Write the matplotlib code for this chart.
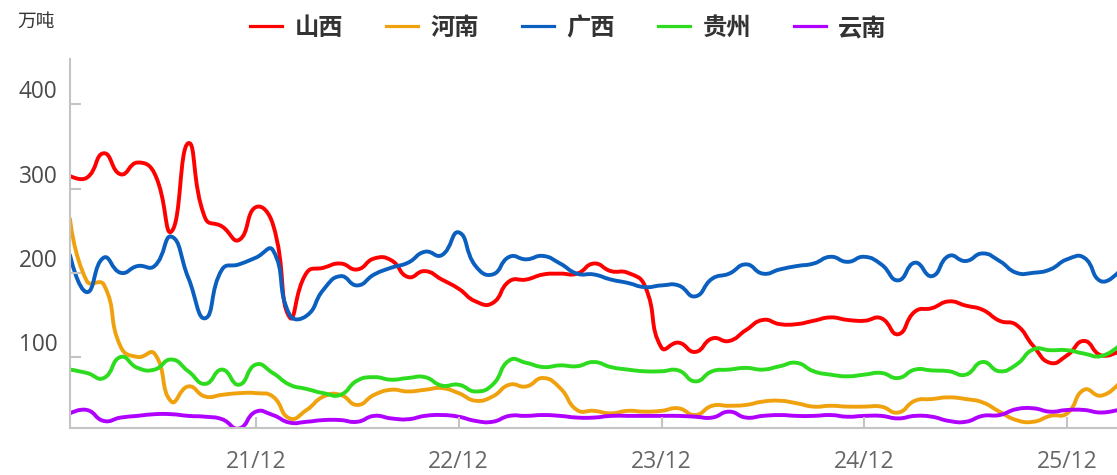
import numpy as np
import matplotlib
matplotlib.use("Agg")
import matplotlib.pyplot as plt
from matplotlib.path import Path
from matplotlib.patches import PathPatch
from matplotlib.lines import Line2D

plt.rcParams['font.family'] = ['Noto Sans CJK SC', 'DejaVu Sans']

# ---------------- data (monthly, 2021-01 .. 2026-03) ----------------
months = [f"{y % 100:02d}/{m:02d}" for y in range(2021, 2027) for m in range(1, 13)][:63]
series_names = ["山西", "河南", "广西", "贵州", "云南"]
shanxi = [315, 313, 342, 317, 331, 318, 249, 354, 265, 255, 239, 278, 258, 147, 200,
          206, 211, 204, 217, 215, 195, 202, 192, 181, 166, 164, 190, 192, 198, 199,
          199, 211, 202, 200, 185, 111, 117, 106, 122, 119, 132, 144, 139, 139, 143,
          147, 144, 143, 146, 127, 154, 158, 166, 161, 156, 143, 138, 113, 93, 102,
          119, 102, 106]
henan = [264, 190, 186, 112, 100, 104, 47, 65, 53, 55, 57, 57, 53, 27, 37,
         53, 55, 43, 55, 61, 59, 61, 63, 57, 48, 53, 67, 65, 75, 63,
         37, 36, 33, 36, 35, 36, 39, 31, 42, 42, 43, 47, 48, 45, 41,
         42, 41, 41, 41, 34, 48, 50, 52, 50, 46, 35, 25, 23, 30, 33,
         61, 54, 67]
guangxi = [221, 177, 218, 200, 208, 208, 243, 194, 146, 204, 210, 218, 227, 150, 149,
           180, 196, 185, 198, 206, 212, 225, 221, 248, 208, 198, 219, 216, 220, 211,
           199, 198, 192, 188, 183, 185, 185, 172, 193, 199, 210, 199, 204, 208, 211,
           219, 213, 219, 210, 191, 212, 196, 220, 214, 223, 214, 200, 200, 204, 216,
           218, 190, 200]
guizhou = [85, 81, 75, 100, 87, 85, 97, 83, 68, 85, 67, 91, 81, 67, 62,
           57, 55, 72, 76, 73, 75, 76, 66, 67, 59, 67, 96, 93, 88, 90,
           89, 94, 88, 85, 83, 83, 84, 71, 83, 85, 87, 85, 89, 93, 83,
           79, 77, 79, 81, 75, 85, 84, 83, 79, 94, 83, 91, 109, 108, 108,
           104, 101, 112]
yunnan = [33, 37, 24, 28, 30, 32, 32, 30, 29, 26, 15, 35, 31, 22, 23,
          25, 25, 23, 30, 27, 26, 30, 31, 29, 24, 23, 30, 30, 31, 30,
          28, 28, 30, 30, 30, 30, 30, 29, 28, 35, 28, 30, 31, 30, 30,
          31, 29, 30, 30, 27, 30, 29, 24, 23, 30, 31, 38, 39, 35, 37,
          37, 34, 37]
colors = ["#ff0000", "#f0a20e", "#0b5fbf", "#2ddc1e", "#b000ff"]
xtick_labels = ["21/12", "22/12", "23/12", "24/12", "25/12"]
ytick_values = [100, 200, 300, 400]

# ---------------- figure ----------------
W, H = 1117, 475
fig = plt.figure(figsize=(W / 100, H / 100), dpi=100)
ax = fig.add_axes([70 / W, 1 - 428 / H, (W - 70) / W, (428 - 59) / H])
ax.set_xlim(0, 61.95)
ax.set_ylim(15.6, 454)

x = np.arange(len(months), dtype=float)
all_series = [shanxi, henan, guangxi, guizhou, yunnan]


def smooth_path(xs, ys, smooth=0.5):
    pts = ax.transData.transform(np.column_stack([xs, ys]))
    n = len(pts)
    verts = [pts[0]]
    codes = [Path.MOVETO]
    cp_next = []
    cp_prev = []
    for i in range(n):
        p = pts[i]
        if i == 0 or i == n - 1:
            cp_prev.append(p)
            cp_next.append(p)
            continue
        prv, nxt = pts[i - 1], pts[i + 1]
        v = nxt - prv
        d0 = np.hypot(*(p - prv))
        d1 = np.hypot(*(nxt - p))
        r = d1 / (d0 + d1) if d0 + d1 > 0 else 0.5
        cp_prev.append(p - v * smooth * (1 - r))
        cp_next.append(p + v * smooth * r)
    for i in range(n - 1):
        verts += [cp_next[i], cp_prev[i + 1], pts[i + 1]]
        codes += [Path.CURVE4] * 3
    verts = ax.transData.inverted().transform(np.array(verts))
    return Path(verts, codes)


for vals, col in zip(all_series, colors):
    path = smooth_path(x, np.array(vals, dtype=float))
    patch = PathPatch(path, facecolor="none", edgecolor=col, lw=2.8,
                      capstyle="round", joinstyle="round", transform=ax.transData)
    patch.set_clip_path(ax.patch)
    ax.add_patch(patch)

# ---------------- axes styling ----------------
for s in ["top", "right"]:
    ax.spines[s].set_visible(False)
for s in ["left", "bottom"]:
    ax.spines[s].set_color("#c4c4c4")
    ax.spines[s].set_linewidth(1.5)

xtick_pos = [months.index(f"{lbl[:2]}/12") for lbl in xtick_labels]
ax.set_xticks(xtick_pos)
ax.set_xticklabels(xtick_labels, family="Open Sans", fontsize=16.5, color="#666666")
ax.set_yticks(ytick_values)
ax.set_yticklabels([str(v) for v in ytick_values], family="Open Sans",
                   fontsize=16.3, color="#4a4a4a")
for lbl in ax.get_yticklabels():
    lbl.set_verticalalignment("bottom")
ax.tick_params(axis="x", direction="in", length=8, width=1.5, color="#c4c4c4", pad=16)
ax.tick_params(axis="y", direction="in", length=8, width=1.5, color="#c4c4c4", pad=9)

# ---------------- legend & unit ----------------
handles = [Line2D([0], [0], color=c, lw=2.3) for c in colors]
fig.legend(handles, series_names, loc="center", bbox_to_anchor=(568.5 / W, 1 - 28 / H),
           ncol=5, frameon=False, handlelength=1.32, handletextpad=0.5,
           columnspacing=1.78,
           prop={"family": ["Noto Sans CJK SC", "DejaVu Sans"], "weight": "bold", "size": 17.5},
           labelcolor="#333333")
fig.text(17 / W, 1 - 21 / H, "万吨", ha="left", va="center", fontsize=13.5,
         color="#333333")

fig.savefig("out.png", dpi=100)
